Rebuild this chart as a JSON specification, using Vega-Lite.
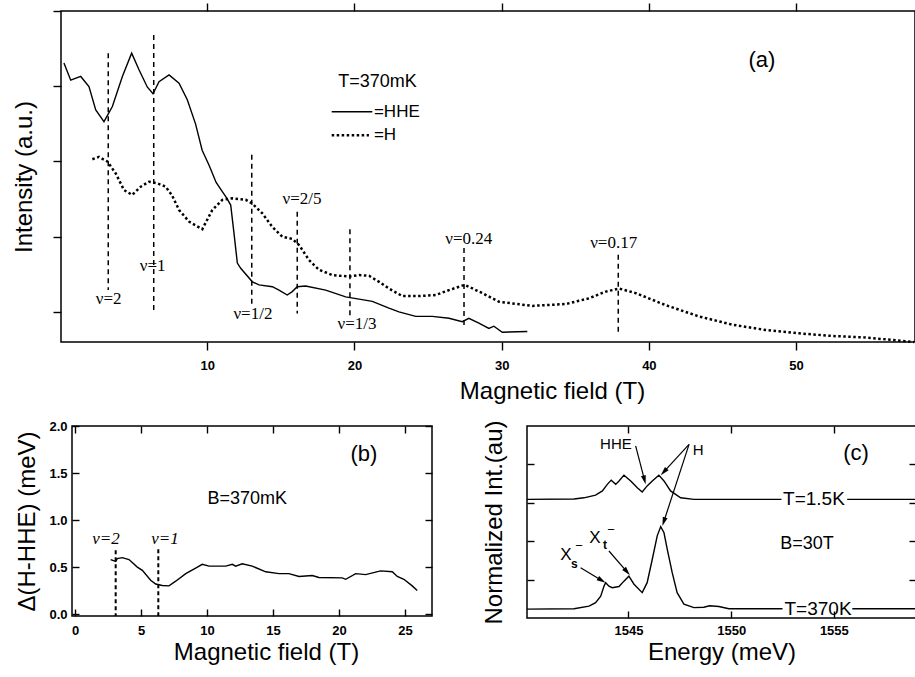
{
  "$schema": "https://vega.github.io/schema/vega-lite/v6.json",
  "background": "white",
  "padding": {"left": 11, "top": 1, "right": 0, "bottom": 0},
  "bounds": "full",
  "spacing": 15,
  "config": {
    "view": {"stroke": "black", "strokeWidth": 1.5},
    "axis": {"domain": false, "grid": false, "tickColor": "black", "tickWidth": 1.4, "labelColor": "black", "titleColor": "black", "labelFont": "Liberation Sans", "titleFont": "Liberation Sans", "labelFontSize": 13, "labelFontWeight": "bold", "titleFontSize": 24, "titleFontWeight": "normal"},
    "line": {"color": "black", "strokeWidth": 1.4},
    "rule": {"color": "black"},
    "text": {"color": "black", "font": "Liberation Sans"}
  },
  "datasets": {
    "hhe": [
      {"B":0.26,"I":4.31},{"B":0.72,"I":4.08},{"B":1.40,"I":4.13},{"B":1.96,"I":3.995},{"B":2.42,"I":3.685},{"B":2.98,"I":3.53},{"B":3.55,"I":3.73},{"B":4.23,"I":4.13},{"B":4.86,"I":4.44},{"B":5.36,"I":4.22},{"B":5.92,"I":3.99},{"B":6.31,"I":3.90},{"B":6.72,"I":4.06},{"B":7.40,"I":4.15},{"B":8.08,"I":4.04},{"B":8.64,"I":3.82},{"B":9.2,"I":3.5},{"B":9.65,"I":3.15},{"B":10.12,"I":2.95},{"B":10.6,"I":2.72},{"B":11.02,"I":2.60},{"B":11.3,"I":2.52},{"B":11.59,"I":2.42},{"B":11.81,"I":2.05},{"B":12.04,"I":1.65},{"B":12.27,"I":1.58},{"B":13.06,"I":1.40},{"B":13.51,"I":1.36},{"B":14.42,"I":1.335},{"B":14.87,"I":1.29},{"B":15.43,"I":1.225},{"B":15.77,"I":1.27},{"B":16.11,"I":1.335},{"B":16.68,"I":1.345},{"B":18.04,"I":1.29},{"B":19.40,"I":1.20},{"B":20.31,"I":1.17},{"B":21.21,"I":1.14},{"B":22.34,"I":1.05},{"B":23.02,"I":1.00},{"B":24.16,"I":0.94},{"B":25.29,"I":0.94},{"B":26.42,"I":0.915},{"B":27.32,"I":0.87},{"B":27.77,"I":0.915},{"B":28.45,"I":0.85},{"B":29.13,"I":0.78},{"B":29.47,"I":0.81},{"B":30.04,"I":0.73},{"B":31.74,"I":0.74}
    ],
    "h": [
      {"B":2.19,"I":3.03},{"B":2.64,"I":3.06},{"B":3.21,"I":3.0},{"B":3.78,"I":2.84},{"B":4.34,"I":2.62},{"B":4.90,"I":2.555},{"B":5.48,"I":2.665},{"B":6.04,"I":2.73},{"B":6.60,"I":2.71},{"B":7.17,"I":2.665},{"B":7.60,"I":2.55},{"B":8.08,"I":2.355},{"B":8.76,"I":2.20},{"B":9.66,"I":2.10},{"B":10.34,"I":2.355},{"B":11.02,"I":2.49},{"B":11.70,"I":2.51},{"B":12.61,"I":2.49},{"B":13.06,"I":2.44},{"B":13.74,"I":2.31},{"B":14.42,"I":2.13},{"B":15.10,"I":2.00},{"B":15.77,"I":1.97},{"B":16.23,"I":1.89},{"B":16.91,"I":1.69},{"B":17.59,"I":1.56},{"B":18.49,"I":1.49},{"B":19.63,"I":1.47},{"B":20.31,"I":1.49},{"B":20.99,"I":1.48},{"B":21.67,"I":1.40},{"B":22.35,"I":1.31},{"B":23.25,"I":1.21},{"B":24.38,"I":1.21},{"B":25.52,"I":1.225},{"B":26.42,"I":1.29},{"B":27.49,"I":1.36},{"B":28.68,"I":1.25},{"B":29.82,"I":1.135},{"B":32.08,"I":1.08},{"B":34.35,"I":1.105},{"B":35.93,"I":1.18},{"B":37.07,"I":1.27},{"B":37.98,"I":1.31},{"B":39.10,"I":1.25},{"B":41.14,"I":1.09},{"B":43.40,"I":0.94},{"B":45.67,"I":0.83},{"B":47.93,"I":0.76},{"B":50.20,"I":0.715},{"B":52.46,"I":0.68},{"B":54.73,"I":0.66},{"B":58.01,"I":0.60}
    ],
    "nu_a": [
      {"B":3.27,"I":4.44,"I2":1.29},{"B":6.36,"I":4.68,"I2":0.98},{"B":13.02,"I":3.09,"I2":1.11},{"B":16.11,"I":2.33,"I2":0.98},{"B":19.69,"I":2.10,"I2":0.94},{"B":27.44,"I":1.85,"I2":0.78},{"B":37.92,"I":1.76,"I2":0.72}
    ],
    "nulab_a": [
      {"B":3.30,"I":1.17,"t":"ν=2"},{"B":6.29,"I":1.61,"t":"ν=1"},{"B":13.10,"I":0.97,"t":"ν=1/2"},{"B":16.43,"I":2.50,"t":"ν=2/5"},{"B":20.17,"I":0.84,"t":"ν=1/3"},{"B":27.76,"I":1.97,"t":"ν=0.24"},{"B":37.61,"I":1.92,"t":"ν=0.17"}
    ],
    "leg_a": [
      {"B":18.45,"B2":21.21,"I":3.66,"s":"HHE"},{"B":18.45,"B2":20.98,"I":3.35,"s":"H"}
    ],
    "txt_a": [
      {"B":21.32,"I":3.66,"t":"=HHE","k":"m"},{"B":21.32,"I":3.35,"t":"=H","k":"m"},{"B":18.9,"I":4.05,"t":"T=370mK","k":"T"},{"B":47.68,"I":4.35,"t":"(a)","k":"l"}
    ],
    "bcurve": [
      {"T":2.70,"D":0.58},{"T":3.08,"D":0.56},{"T":3.20,"D":0.59},{"T":3.58,"D":0.60},{"T":4.09,"D":0.58},{"T":4.72,"D":0.50},{"T":5.10,"D":0.465},{"T":5.73,"D":0.36},{"T":6.11,"D":0.32},{"T":6.61,"D":0.305},{"T":7.12,"D":0.30},{"T":7.63,"D":0.35},{"T":8.39,"D":0.43},{"T":9.14,"D":0.49},{"T":9.64,"D":0.53},{"T":10.15,"D":0.51},{"T":11.42,"D":0.51},{"T":11.92,"D":0.53},{"T":12.17,"D":0.51},{"T":12.67,"D":0.535},{"T":13.43,"D":0.51},{"T":14.45,"D":0.45},{"T":15.45,"D":0.43},{"T":16.21,"D":0.43},{"T":16.97,"D":0.40},{"T":17.98,"D":0.41},{"T":18.48,"D":0.39},{"T":20.25,"D":0.385},{"T":20.51,"D":0.37},{"T":21.27,"D":0.43},{"T":22.02,"D":0.42},{"T":23.16,"D":0.46},{"T":24.04,"D":0.45},{"T":24.42,"D":0.40},{"T":24.92,"D":0.37},{"T":25.55,"D":0.30},{"T":25.93,"D":0.25}
    ],
    "nu_b": [
      {"T":3.08,"D":0.68,"D2":-0.02},{"T":6.31,"D":0.69,"D2":-0.02}
    ],
    "nulab_b": [
      {"T":2.35,"D":0.80,"t":"ν=2"},{"T":6.82,"D":0.80,"t":"ν=1"}
    ],
    "txt_b": [
      {"T":13.05,"D":1.22,"t":"B=370mK","k":"s"},{"T":21.89,"D":1.70,"t":"(b)","k":"l"}
    ],
    "ccurves": [
      {"E":1540.06,"N":3.09,"seg":"u1"},{"E":1542.35,"N":3.10,"seg":"u1"},{"E":1542.83,"N":3.13,"seg":"u1"},{"E":1543.40,"N":3.20,"seg":"u1"},{"E":1543.73,"N":3.31,"seg":"u1"},{"E":1543.97,"N":3.48,"seg":"u1"},{"E":1544.16,"N":3.59,"seg":"u1"},{"E":1544.38,"N":3.48,"seg":"u1"},{"E":1544.54,"N":3.57,"seg":"u1"},{"E":1544.78,"N":3.72,"seg":"u1"},{"E":1545.11,"N":3.57,"seg":"u1"},{"E":1545.43,"N":3.39,"seg":"u1"},{"E":1545.67,"N":3.28,"seg":"u1"},{"E":1545.91,"N":3.44,"seg":"u1"},{"E":1546.16,"N":3.57,"seg":"u1"},{"E":1546.48,"N":3.72,"seg":"u1"},{"E":1546.73,"N":3.57,"seg":"u1"},{"E":1547.05,"N":3.31,"seg":"u1"},{"E":1547.54,"N":3.13,"seg":"u1"},{"E":1548.19,"N":3.09,"seg":"u1"},{"E":1552.45,"N":3.09,"seg":"u1"},
      {"E":1555.65,"N":3.09,"seg":"u2"},{"E":1559.0,"N":3.09,"seg":"u2"},
      {"E":1540.06,"N":0.23,"seg":"l1"},{"E":1542.35,"N":0.24,"seg":"l1"},{"E":1543.08,"N":0.31,"seg":"l1"},{"E":1543.40,"N":0.40,"seg":"l1"},{"E":1543.65,"N":0.57,"seg":"l1"},{"E":1543.81,"N":0.83,"seg":"l1"},{"E":1543.89,"N":0.92,"seg":"l1"},{"E":1544.05,"N":0.83,"seg":"l1"},{"E":1544.21,"N":0.79,"seg":"l1"},{"E":1544.54,"N":0.82,"seg":"l1"},{"E":1544.78,"N":0.96,"seg":"l1"},{"E":1545.02,"N":1.09,"seg":"l1"},{"E":1545.27,"N":0.88,"seg":"l1"},{"E":1545.67,"N":0.66,"seg":"l1"},{"E":1545.91,"N":0.92,"seg":"l1"},{"E":1546.16,"N":1.53,"seg":"l1"},{"E":1546.40,"N":2.14,"seg":"l1"},{"E":1546.57,"N":2.38,"seg":"l1"},{"E":1546.73,"N":2.22,"seg":"l1"},{"E":1546.89,"N":1.79,"seg":"l1"},{"E":1547.13,"N":1.18,"seg":"l1"},{"E":1547.37,"N":0.66,"seg":"l1"},{"E":1547.70,"N":0.36,"seg":"l1"},{"E":1548.19,"N":0.27,"seg":"l1"},{"E":1548.67,"N":0.28,"seg":"l1"},{"E":1548.95,"N":0.32,"seg":"l1"},{"E":1549.40,"N":0.30,"seg":"l1"},{"E":1549.89,"N":0.24,"seg":"l1"},{"E":1552.5,"N":0.24,"seg":"l1"},
      {"E":1555.9,"N":0.24,"seg":"l2"},{"E":1559.0,"N":0.24,"seg":"l2"}
    ],
    "arrows": [
      {"E":1545.35,"N":4.48,"E2":1545.78,"N2":3.595},
      {"E":1547.95,"N":4.523,"E2":1546.72,"N2":3.803},
      {"E":1547.95,"N":4.523,"E2":1546.72,"N2":2.507},
      {"E":1544.05,"N":1.745,"E2":1544.93,"N2":1.201},
      {"E":1542.67,"N":1.31,"E2":1543.70,"N2":0.979}
    ],
    "heads": [
      {"E":1545.78,"N":3.595,"id":"HHE"},
      {"E":1546.72,"N":3.803,"id":"H1"},
      {"E":1546.72,"N":2.507,"id":"H2"},
      {"E":1544.93,"N":1.201,"id":"Xt"},
      {"E":1543.70,"N":0.979,"id":"Xs"}
    ],
    "txt_c": [
      {"E":1544.39,"N":4.53,"t":"HHE","k":"m"},{"E":1548.39,"N":4.375,"t":"H","k":"m"},
      {"E":1554.03,"N":3.10,"t":"T=1.5K","k":"T"},{"E":1554.23,"N":0.245,"t":"T=370K","k":"T"},
      {"E":1553.69,"N":1.92,"t":"B=30T","k":"B"},{"E":1556.08,"N":4.30,"t":"(c)","k":"l"},
      {"E":1541.96,"N":1.64,"t":"X","k":"X"},{"E":1543.37,"N":2.083,"t":"X","k":"X"},
      {"E":1542.37,"N":1.406,"t":"s","k":"sub"},{"E":1543.86,"N":1.90,"t":"t","k":"sub"},
      {"E":1542.59,"N":1.875,"t":"−","k":"sup"},{"E":1544.15,"N":2.29,"t":"−","k":"sup"}
    ]
  },
  "vconcat": [
    {
      "width": 854,
      "height": 331,
      "resolve": {"axis": {"x": "independent", "y": "independent"}},
      "encoding": {
        "x": {"field": "B", "type": "quantitative", "scale": {"domain": [0.06, 58.08], "nice": false, "zero": false}, "axis": null},
        "y": {"field": "I", "type": "quantitative", "scale": {"domain": [0.6, 5.0], "nice": false, "zero": false}, "axis": null}
      },
      "layer": [
        {
          "data": {"name": "hhe"},
          "mark": {"type": "line", "strokeWidth": 1.4},
          "encoding": {
            "x": {"field": "B", "type": "quantitative", "scale": {"domain": [0.06, 58.08], "nice": false, "zero": false},
                  "axis": {"orient": "bottom", "values": [10, 20, 30, 40, 50], "tickSize": 8, "labelPadding": 9, "title": "Magnetic field (T)", "titlePadding": 7, "titleX": 491}},
            "y": {"field": "I", "type": "quantitative", "scale": {"domain": [0.6, 5.0], "nice": false, "zero": false},
                  "axis": {"orient": "left", "values": [1, 2, 3, 4, 5], "tickSize": 8, "labels": false, "title": "Intensity (a.u.)", "titlePadding": 16}}
          }
        },
        {
          "data": {"name": "h"},
          "mark": {"type": "line", "strokeWidth": 2.5, "strokeDash": [2.5, 2.5]},
          "encoding": {
            "x": {"field": "B", "type": "quantitative", "scale": {"domain": [0.06, 58.08], "nice": false, "zero": false},
                  "axis": {"orient": "top", "values": [10, 20, 30, 40, 50], "tickSize": 8, "labels": false, "title": null}}
          }
        },
        {
          "data": {"name": "nu_a"},
          "mark": {"type": "rule", "strokeDash": [5, 4], "strokeWidth": 1.5},
          "encoding": {"y2": {"field": "I2"}}
        },
        {
          "data": {"name": "nulab_a"},
          "mark": {"type": "text", "font": "Liberation Serif", "fontSize": 17, "align": "center", "baseline": "middle"},
          "encoding": {"text": {"field": "t"}}
        },
        {
          "data": {"name": "leg_a"},
          "transform": [{"filter": "datum.s === 'HHE'"}],
          "mark": {"type": "rule", "strokeWidth": 1.4},
          "encoding": {"x2": {"field": "B2"}}
        },
        {
          "data": {"name": "leg_a"},
          "transform": [{"filter": "datum.s === 'H'"}],
          "mark": {"type": "rule", "strokeWidth": 2.5, "strokeDash": [2.5, 2.5]},
          "encoding": {"x2": {"field": "B2"}}
        },
        {
          "data": {"name": "txt_a"},
          "transform": [{"filter": "datum.k === 'm'"}],
          "mark": {"type": "text", "fontSize": 17, "align": "left", "baseline": "middle"},
          "encoding": {"text": {"field": "t"}}
        },
        {
          "data": {"name": "txt_a"},
          "transform": [{"filter": "datum.k === 'T'"}],
          "mark": {"type": "text", "fontSize": 18, "align": "left", "baseline": "middle"},
          "encoding": {"text": {"field": "t"}}
        },
        {
          "data": {"name": "txt_a"},
          "transform": [{"filter": "datum.k === 'l'"}],
          "mark": {"type": "text", "fontSize": 22, "align": "center", "baseline": "middle"},
          "encoding": {"text": {"field": "t"}}
        }
      ]
    },
    {
      "bounds": "flush",
      "spacing": 0,
      "hconcat": [
        {
          "width": 11,
          "height": 190,
          "view": {"stroke": null},
          "data": {"values": []},
          "mark": "point",
          "encoding": {}
        },
        {
          "width": 360,
          "height": 190,
          "resolve": {"axis": {"x": "independent", "y": "independent"}},
          "encoding": {
            "x": {"field": "T", "type": "quantitative", "scale": {"domain": [-0.23, 27.05], "nice": false, "zero": false}, "axis": null},
            "y": {"field": "D", "type": "quantitative", "scale": {"domain": [-0.02, 2.0], "nice": false, "zero": false}, "axis": null}
          },
          "layer": [
            {
              "data": {"name": "bcurve"},
              "mark": {"type": "line", "strokeWidth": 1.4},
              "encoding": {
                "x": {"field": "T", "type": "quantitative", "scale": {"domain": [-0.23, 27.05], "nice": false, "zero": false},
                      "axis": {"orient": "bottom", "values": [0, 5, 10, 15, 20, 25], "tickSize": -7, "labelPadding": 15, "title": "Magnetic field (T)", "titlePadding": 3, "titleX": 194}},
                "y": {"field": "D", "type": "quantitative", "scale": {"domain": [-0.02, 2.0], "nice": false, "zero": false},
                      "axis": {"orient": "left", "values": [0, 0.5, 1, 1.5, 2], "format": ".1f", "tickSize": -7, "labelPadding": 12, "title": "Δ(H-HHE) (meV)", "titlePadding": 9}}
              }
            },
            {
              "data": {"name": "nu_b"},
              "mark": {"type": "rule", "strokeDash": [4, 3], "strokeWidth": 2},
              "encoding": {
                "x": {"field": "T", "type": "quantitative", "scale": {"domain": [-0.23, 27.05], "nice": false, "zero": false},
                      "axis": {"orient": "top", "values": [0, 5, 10, 15, 20, 25], "tickSize": -7, "labels": false, "title": null}},
                "y": {"field": "D", "type": "quantitative", "scale": {"domain": [-0.02, 2.0], "nice": false, "zero": false},
                      "axis": {"orient": "right", "values": [0, 0.5, 1, 1.5, 2], "tickSize": -7, "labels": false, "title": null}},
                "y2": {"field": "D2"}
              }
            },
            {
              "data": {"name": "nulab_b"},
              "mark": {"type": "text", "font": "Liberation Serif", "fontStyle": "italic", "fontSize": 17, "align": "center", "baseline": "middle"},
              "encoding": {"text": {"field": "t"}}
            },
            {
              "data": {"name": "txt_b"},
              "transform": [{"filter": "datum.k === 's'"}],
              "mark": {"type": "text", "fontSize": 18, "align": "center", "baseline": "middle"},
              "encoding": {"text": {"field": "t"}}
            },
            {
              "data": {"name": "txt_b"},
              "transform": [{"filter": "datum.k === 'l'"}],
              "mark": {"type": "text", "fontSize": 22, "align": "center", "baseline": "middle"},
              "encoding": {"text": {"field": "t"}}
            }
          ]
        },
        {
          "width": 95,
          "height": 190,
          "view": {"stroke": null},
          "data": {"values": []},
          "mark": "point",
          "encoding": {}
        },
        {
          "width": 389,
          "height": 192,
          "resolve": {"axis": {"x": "independent", "y": "independent"}},
          "encoding": {
            "x": {"field": "E", "type": "quantitative", "scale": {"domain": [1540.06, 1559.0], "nice": false, "zero": false}, "axis": null},
            "y": {"field": "N", "type": "quantitative", "scale": {"domain": [0, 5], "nice": false, "zero": false}, "axis": null}
          },
          "layer": [
            {
              "data": {"name": "ccurves"},
              "mark": {"type": "line", "strokeWidth": 1.4},
              "encoding": {
                "x": {"field": "E", "type": "quantitative", "scale": {"domain": [1540.06, 1559.0], "nice": false, "zero": false},
                      "axis": {"orient": "bottom", "values": [1545, 1550, 1555], "format": "d", "tickSize": -7, "labelPadding": 13, "title": "Energy (meV)", "titlePadding": 3}},
                "y": {"field": "N", "type": "quantitative", "scale": {"domain": [0, 5], "nice": false, "zero": false},
                      "axis": {"orient": "left", "values": [1, 2, 3, 4], "tickSize": -7, "labels": false, "title": "Normalized Int.(au)", "titlePadding": 20}},
                "detail": {"field": "seg"}
              }
            },
            {
              "data": {"name": "arrows"},
              "mark": {"type": "rule", "strokeWidth": 1.2},
              "encoding": {
                "x": {"field": "E", "type": "quantitative", "scale": {"domain": [1540.06, 1559.0], "nice": false, "zero": false},
                      "axis": {"orient": "top", "values": [1545, 1550, 1555], "tickSize": -7, "labels": false, "title": null}},
                "y": {"field": "N", "type": "quantitative", "scale": {"domain": [0, 5], "nice": false, "zero": false},
                      "axis": {"orient": "right", "values": [1, 2, 3, 4], "tickSize": -7, "labels": false, "title": null}},
                "x2": {"field": "E2"},
                "y2": {"field": "N2"}
              }
            },
            {
              "data": {"name": "heads"},
              "transform": [{"filter": "datum.id === 'HHE'"}],
              "mark": {"type": "point", "shape": "M0,-1L-0.55,1L0.55,1Z", "angle": 165.4, "filled": true, "size": 81, "color": "black", "opacity": 1}
            },
            {
              "data": {"name": "heads"},
              "transform": [{"filter": "datum.id === 'H1'"}],
              "mark": {"type": "point", "shape": "M0,-1L-0.55,1L0.55,1Z", "angle": 222.4, "filled": true, "size": 81, "color": "black", "opacity": 1}
            },
            {
              "data": {"name": "heads"},
              "transform": [{"filter": "datum.id === 'H2'"}],
              "mark": {"type": "point", "shape": "M0,-1L-0.55,1L0.55,1Z", "angle": 198.1, "filled": true, "size": 81, "color": "black", "opacity": 1}
            },
            {
              "data": {"name": "heads"},
              "transform": [{"filter": "datum.id === 'Xt'"}],
              "mark": {"type": "point", "shape": "M0,-1L-0.55,1L0.55,1Z", "angle": 139.2, "filled": true, "size": 81, "color": "black", "opacity": 1}
            },
            {
              "data": {"name": "heads"},
              "transform": [{"filter": "datum.id === 'Xs'"}],
              "mark": {"type": "point", "shape": "M0,-1L-0.55,1L0.55,1Z", "angle": 121, "filled": true, "size": 81, "color": "black", "opacity": 1}
            },
            {
              "data": {"name": "txt_c"},
              "transform": [{"filter": "datum.k === 'm'"}],
              "mark": {"type": "text", "fontSize": 15, "align": "center", "baseline": "middle"},
              "encoding": {"text": {"field": "t"}}
            },
            {
              "data": {"name": "txt_c"},
              "transform": [{"filter": "datum.k === 'T'"}],
              "mark": {"type": "text", "fontSize": 19, "align": "center", "baseline": "middle"},
              "encoding": {"text": {"field": "t"}}
            },
            {
              "data": {"name": "txt_c"},
              "transform": [{"filter": "datum.k === 'B'"}],
              "mark": {"type": "text", "fontSize": 18, "align": "center", "baseline": "middle"},
              "encoding": {"text": {"field": "t"}}
            },
            {
              "data": {"name": "txt_c"},
              "transform": [{"filter": "datum.k === 'l'"}],
              "mark": {"type": "text", "fontSize": 22, "align": "center", "baseline": "middle"},
              "encoding": {"text": {"field": "t"}}
            },
            {
              "data": {"name": "txt_c"},
              "transform": [{"filter": "datum.k === 'X'"}],
              "mark": {"type": "text", "fontSize": 17, "align": "center", "baseline": "middle"},
              "encoding": {"text": {"field": "t"}}
            },
            {
              "data": {"name": "txt_c"},
              "transform": [{"filter": "datum.k === 'sub'"}],
              "mark": {"type": "text", "fontSize": 12, "fontWeight": "bold", "align": "center", "baseline": "middle"},
              "encoding": {"text": {"field": "t"}}
            },
            {
              "data": {"name": "txt_c"},
              "transform": [{"filter": "datum.k === 'sup'"}],
              "mark": {"type": "text", "fontSize": 13, "align": "center", "baseline": "middle"},
              "encoding": {"text": {"field": "t"}}
            }
          ]
        }
      ]
    }
  ]
}
